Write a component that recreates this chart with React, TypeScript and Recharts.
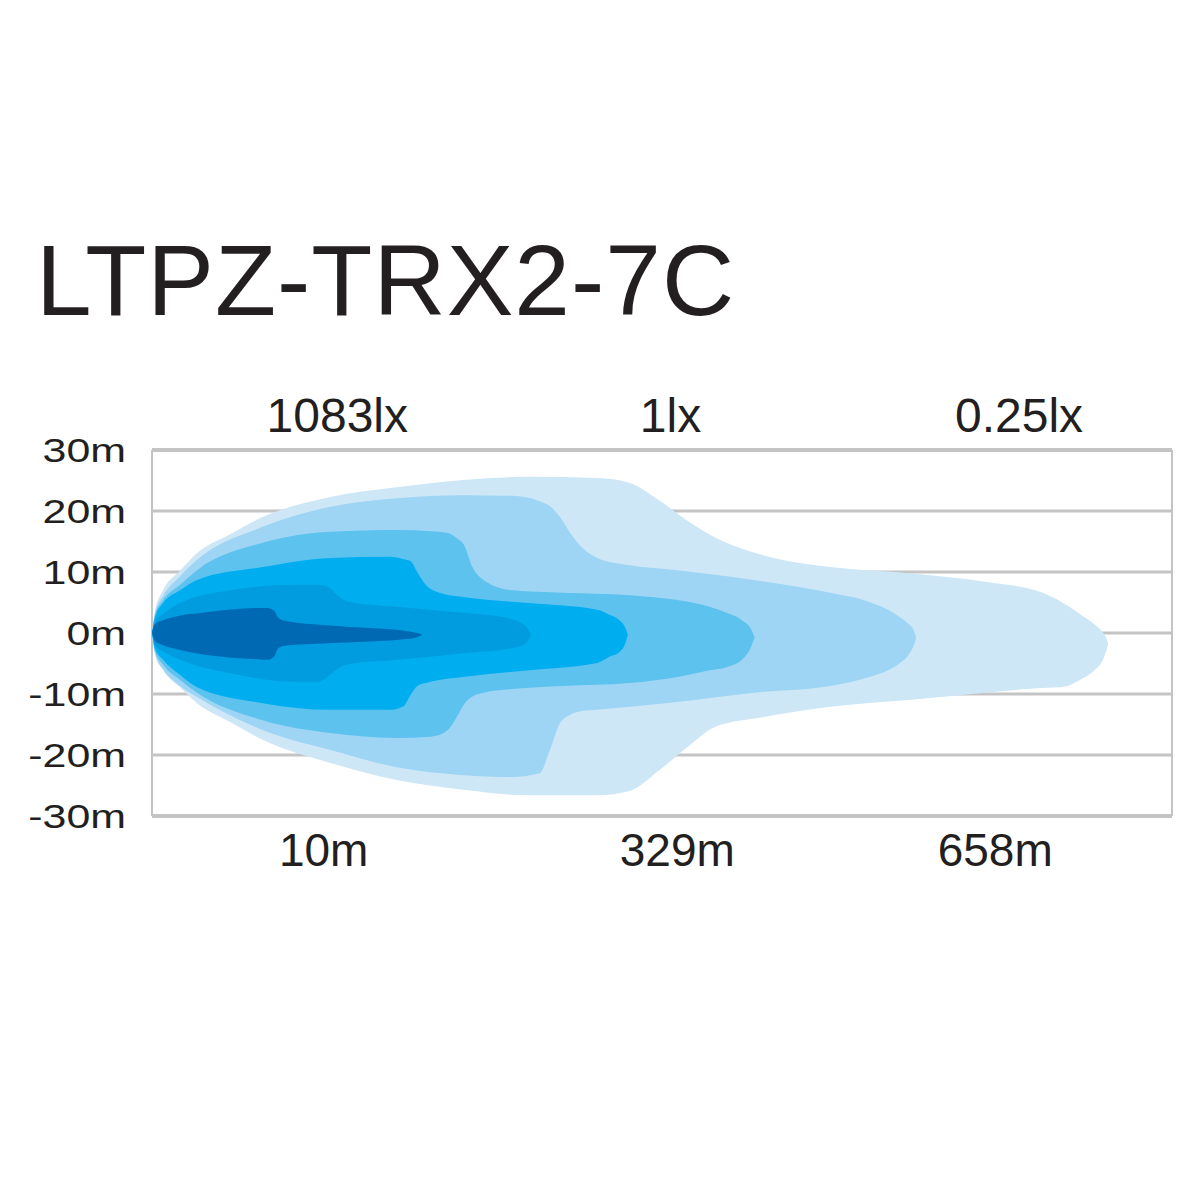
import { Area, CartesianGrid, ComposedChart, ReferenceLine, XAxis, YAxis } from "recharts";

type Row = [number, number, number]; // [distance unit, top (m), bottom (m)]

const TITLE = "LTPZ-TRX2-7C";

// x runs in grid units (one column = 10), y in metres
const gridX = [0, 10, 20, 30, 40, 50, 60];
const lateralTicks = [30, 20, 10, 0, -10, -20, -30];

const distanceTicks = [10.1, 30.9, 49.6];
const distanceLabels = ["10m", "329m", "658m"];
const luxTicks = [10.9, 30.5, 51.0];
const luxLabels = ["1083lx", "1lx", "0.25lx"];

// isolux zones, outermost first
const zone6: Row[] = [
  [0, 0, 0], [0.18, 3.6, -3.6], [0.65, 7.0, -6.1], [1.65, 10.2, -8.9], [2.65, 13.1, -11.5],
  [4.6, 16.2, -14.6], [6.5, 19.0, -17.5], [10.5, 22.3, -21.3], [14.4, 23.9, -24.1],
  [18.3, 25.1, -25.7], [22.2, 25.6, -26.6], [26.2, 25.4, -26.6], [28.1, 24.6, -25.9],
  [29.8, 21.8, -22.6], [31.5, 18.4, -18.7], [33.1, 15.7, -15.4], [35.9, 12.8, -13.8],
  [39.9, 10.8, -12.1], [44.5, 9.8, -11.0], [49.0, 8.4, -9.8], [52.4, 6.6, -9.0],
  [53.5, 5.1, -8.9], [54.65, 3.0, -7.6], [55.4, 1.5, -6.2], [55.9, 0.2, -4.6],
  [56.1, -0.6, -3.2], [56.25, -1.8, -1.8],
];
const zone5: Row[] = [
  [0, 0, 0], [0.18, 3.3, -3.3], [0.65, 6.1, -5.9], [1.65, 9.3, -8.7], [2.65, 12.0, -10.5],
  [6.5, 17.4, -15.9], [10.5, 20.7, -19.2], [14.4, 22.1, -22.0], [18.3, 22.6, -23.3],
  [21.2, 22.5, -23.6], [22.8, 21.6, -23.0], [23.4, 20.8, -19.2], [24.0, 19.0, -14.8],
  [24.6, 16.4, -13.4], [25.3, 14.0, -12.8], [26.2, 12.3, -12.6], [28.1, 11.1, -12.1],
  [30.9, 10.3, -11.3], [35.4, 8.7, -9.8], [39.9, 6.6, -8.7], [42.2, 5.1, -7.2],
  [43.3, 3.8, -6.1], [44.0, 2.6, -4.9], [44.5, 1.5, -3.6], [44.8, 0.5, -2.1], [44.95, -0.8, -0.8],
];
const zone4: Row[] = [
  [0, 0, 0], [0.18, 3.0, -3.0], [0.65, 5.4, -5.2], [1.65, 7.9, -7.7], [2.65, 10.3, -9.8],
  [6.5, 14.8, -14.3], [10.5, 16.6, -16.4], [14.4, 16.9, -17.2], [16.4, 16.7, -17.0],
  [17.4, 16.4, -15.9], [17.9, 15.6, -13.9], [18.4, 14.2, -11.5], [18.8, 11.1, -10.5],
  [19.5, 8.7, -9.8], [21.2, 7.0, -9.2], [24.2, 6.6, -8.7], [28.1, 6.2, -8.2],
  [30.9, 5.4, -7.2], [32.8, 4.3, -6.1], [33.8, 3.3, -5.6], [34.7, 2.1, -4.4],
  [35.2, 0.8, -2.5], [35.45, -0.7, -0.7],
];
const zone3: Row[] = [
  [0, 0, 0], [0.18, 2.6, -2.6], [0.65, 4.9, -4.4], [1.65, 7.0, -6.9], [2.65, 8.7, -8.9],
  [6.5, 10.8, -11.5], [10.5, 12.3, -12.6], [14.0, 12.5, -12.6], [14.8, 12.1, -12.0],
  [15.2, 11.8, -10.2], [15.6, 10.0, -8.7], [16.1, 7.9, -8.2], [16.9, 6.6, -7.7],
  [18.3, 5.9, -7.2], [22.2, 4.9, -6.1], [26.2, 3.8, -4.9], [26.9, 3.0, -3.9],
  [27.5, 2.1, -3.1], [27.8, 1.1, -2.0], [28.0, -0.3, -0.3],
];
const zone2: Row[] = [
  [0, 0, 0], [0.18, 1.8, -2.0], [0.65, 3.1, -3.0], [1.65, 4.9, -4.4], [4.6, 7.0, -6.6],
  [8.5, 7.9, -8.0], [9.8, 7.9, -8.0], [10.4, 7.5, -7.0], [10.9, 6.2, -5.9], [11.6, 5.1, -5.1],
  [14.4, 4.3, -4.4], [18.3, 3.3, -3.3], [21.1, 2.3, -2.5], [21.8, 1.5, -2.0],
  [22.1, 0.7, -1.3], [22.3, -0.3, -0.3],
];
const zone1: Row[] = [
  [0, 0, 0], [0.18, 1.5, -1.3], [0.65, 2.1, -2.0], [1.24, 2.6, -2.5], [3.2, 3.4, -3.6],
  [6.2, 4.1, -4.3], [6.8, 4.1, -4.4], [7.2, 3.6, -3.8], [7.4, 2.6, -2.6], [7.8, 2.0, -2.1],
  [11.1, 1.1, -1.6], [15.0, 0.3, -1.0], [15.6, 0.0, -0.7], [15.9, -0.3, -0.3],
];

const ZONES = [
  { id: "z6", rows: zone6, color: "#cde7f7" },
  { id: "z5", rows: zone5, color: "#9fd5f4" },
  { id: "z4", rows: zone4, color: "#5ec2ef" },
  { id: "z3", rows: zone3, color: "#00aeef" },
  { id: "z2", rows: zone2, color: "#009cdf" },
  { id: "z1", rows: zone1, color: "#0069b3" },
];

const INK = "#231f20";
const GRID = "#c4c4c4";
const FONT = "'Liberation Sans', Arial, sans-serif";

function LateralTick(props: any) {
  const { x, y, payload } = props;
  return (
    <g transform={`translate(${x},${y})`}>
      <text
        transform="scale(1.3,1)"
        textAnchor="end"
        dy="0.36em"
        fill={INK}
        fontSize={33}
        fontFamily={FONT}
      >
        {`${payload.value}m`}
      </text>
    </g>
  );
}

export default function App() {
  return (
    <div
      style={{
        position: "absolute",
        left: 0,
        top: 0,
        width: 1200,
        height: 1200,
        background: "#ffffff",
        overflow: "hidden",
      }}
    >
      <div
        style={{
          position: "absolute",
          left: 36,
          top: 230,
          fontFamily: FONT,
          fontSize: 100,
          lineHeight: 1,
          letterSpacing: 1,
          color: INK,
          whiteSpace: "nowrap",
        }}
      >
        {TITLE}
      </div>
      <div style={{ position: "absolute", left: 0, top: 0 }}>
        <ComposedChart
          width={1200}
          height={1200}
          margin={{ top: 380, right: 28, bottom: 304, left: 0 }}
        >
          <CartesianGrid
            xAxisId="grid"
            stroke={GRID}
            strokeWidth={3}
            vertical={false}
          />
          <CartesianGrid
            xAxisId="grid"
            stroke={GRID}
            strokeWidth={2}
            horizontal={false}
          />
          <XAxis
            xAxisId="grid"
            dataKey="x"
            type="number"
            domain={[0, 60]}
            allowDataOverflow
            ticks={gridX}
            tick={false}
            tickLine={false}
            axisLine={false}
            height={0}
          />
          <XAxis
            xAxisId="bottom"
            dataKey="x"
            type="number"
            domain={[0, 60]}
            allowDataOverflow
            ticks={distanceTicks}
            tickFormatter={(_v: number, i: number) => distanceLabels[i]}
            tick={{ fill: INK, fontSize: 46, fontFamily: FONT }}
            tickLine={false}
            axisLine={false}
            tickMargin={11}
            interval={0}
            height={80}
          />
          <XAxis
            xAxisId="top"
            orientation="top"
            dataKey="x"
            type="number"
            domain={[0, 60]}
            allowDataOverflow
            ticks={luxTicks}
            tickFormatter={(_v: number, i: number) => luxLabels[i]}
            tick={{ fill: INK, fontSize: 48, fontFamily: FONT }}
            tickLine={false}
            axisLine={false}
            tickMargin={12}
            interval={0}
            height={70}
          />
          <YAxis
            type="number"
            domain={[-30, 30]}
            ticks={lateralTicks}
            interval={0}
            width={152}
            tick={<LateralTick />}
            tickLine={false}
            axisLine={false}
            tickMargin={20}
          />

          {ZONES.map((z) => (
            <Area
              key={z.id}
              xAxisId="grid"
              data={z.rows.map(([x, hi, lo]) => ({ x, r: [lo, hi] }))}
              dataKey="r"
              type="monotone"
              stroke="none"
              fill={z.color}
              fillOpacity={1}
              dot={false}
              activeDot={false}
              isAnimationActive={false}
            />
          ))}

          <ReferenceLine xAxisId="grid" y={30} stroke={GRID} strokeWidth={4} />
          <ReferenceLine xAxisId="grid" y={-30} stroke={GRID} strokeWidth={4} />
        </ComposedChart>
      </div>
    </div>
  );
}
